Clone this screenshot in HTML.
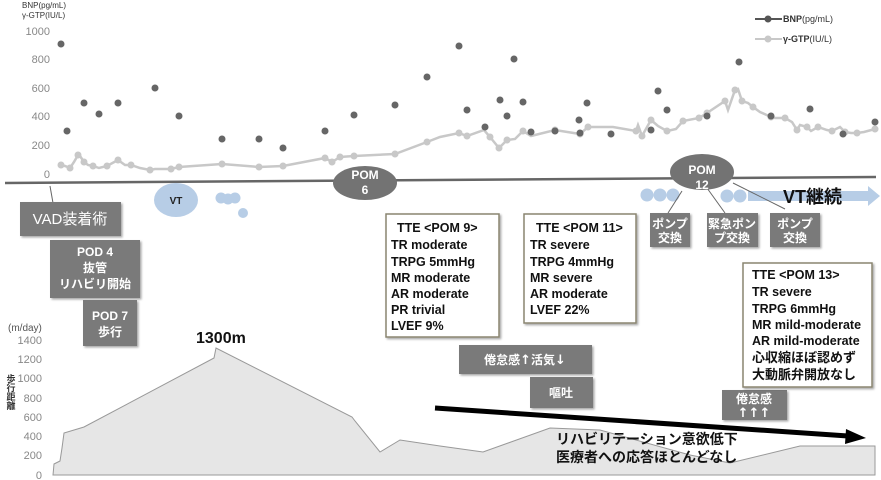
<!DOCTYPE html>
<html><head><meta charset="utf-8"><style>
body{margin:0;background:#fff}
svg{display:block}
text{font-family:"Liberation Sans","Noto Sans CJK JP",sans-serif}
.ax{font-size:11px;fill:#888;text-anchor:end}
.bx{fill:#7a7a7a}
.wt{fill:#fff;font-weight:bold;text-anchor:middle;font-size:12px}
.tt{font-size:12.5px;font-weight:bold;fill:#111}
.ar{font-family:"DejaVu Sans",sans-serif;font-size:13px}
</style></head><body>
<svg width="881" height="480" viewBox="0 0 881 480">
<defs><filter id="sh"><feDropShadow dx="1.5" dy="1.5" stdDeviation="1" flood-opacity="0.35"/></filter></defs>
<text x="22" y="8" font-size="8" fill="#333">BNP(pg/mL)</text>
<text x="22" y="18" font-size="8" fill="#333">γ-GTP(IU/L)</text>
<text class="ax" x="50" y="35">1000</text>
<text class="ax" x="50" y="63">800</text>
<text class="ax" x="50" y="92">600</text>
<text class="ax" x="50" y="120">400</text>
<text class="ax" x="50" y="149">200</text>
<text class="ax" x="50" y="178">0</text>
<line x1="755" y1="19" x2="782" y2="19" stroke="#555" stroke-width="2"/><circle cx="768" cy="19" r="3.5" fill="#555"/>
<text x="783" y="22" font-size="9" fill="#333"><tspan font-weight="bold">BNP</tspan>(pg/mL)</text>
<line x1="755" y1="39" x2="782" y2="39" stroke="#c8c8c8" stroke-width="2"/><circle cx="768" cy="39" r="3.5" fill="#c8c8c8"/>
<text x="783" y="42" font-size="9" fill="#333"><tspan font-weight="bold">γ-GTP</tspan>(IU/L)</text>
<polyline fill="none" stroke="#c8c8c8" stroke-width="2.5" points="61,165 65,166 70,168 74,162 78,155 80,156 84,162 88,165 93,166 99,168 107,166 118,160 125,165 131,165 140,168 150,170 155,169 171,169 179,167 222,164 259,167 283,166 325,158 332,162 340,157 354,156 395,154 427,142 440,137 459,133 467,136 484,130 490,137 499,148 507,140 515,139 523,131 531,136 555,130 580,134 588,127 613,127 636,131 638,125 642,136 651,120 658,126 667,131 676,129 683,121 699,118 707,113 725,101 728,110 735,90 738,89 742,101 748,103 753,107 760,112 771,117 775,118 785,118 792,122 797,130 800,125 807,127 811,131 818,127 827,130 832,131 840,127 845,132 851,133 857,133 864,132 875,129"/>
<g fill="#c8c8c8">
<circle cx="61" cy="165" r="3.5"/><circle cx="70" cy="168" r="3.5"/><circle cx="78" cy="155" r="3.5"/><circle cx="84" cy="162" r="3.5"/><circle cx="93" cy="166" r="3.5"/><circle cx="107" cy="166" r="3.5"/><circle cx="118" cy="160" r="3.5"/><circle cx="131" cy="165" r="3.5"/><circle cx="150" cy="170" r="3.5"/><circle cx="171" cy="169" r="3.5"/><circle cx="179" cy="167" r="3.5"/><circle cx="222" cy="164" r="3.5"/><circle cx="259" cy="167" r="3.5"/><circle cx="283" cy="166" r="3.5"/><circle cx="325" cy="158" r="3.5"/><circle cx="332" cy="162" r="3.5"/><circle cx="340" cy="157" r="3.5"/><circle cx="354" cy="156" r="3.5"/><circle cx="395" cy="154" r="3.5"/><circle cx="427" cy="142" r="3.5"/><circle cx="459" cy="133" r="3.5"/><circle cx="467" cy="136" r="3.5"/><circle cx="490" cy="137" r="3.5"/><circle cx="499" cy="148" r="3.5"/><circle cx="507" cy="140" r="3.5"/><circle cx="523" cy="131" r="3.5"/><circle cx="555" cy="130" r="3.5"/><circle cx="580" cy="134" r="3.5"/><circle cx="588" cy="127" r="3.5"/><circle cx="636" cy="131" r="3.5"/><circle cx="642" cy="136" r="3.5"/><circle cx="651" cy="120" r="3.5"/><circle cx="667" cy="131" r="3.5"/><circle cx="683" cy="121" r="3.5"/><circle cx="699" cy="118" r="3.5"/><circle cx="707" cy="113" r="3.5"/><circle cx="725" cy="101" r="3.5"/><circle cx="735" cy="90" r="3.5"/><circle cx="742" cy="101" r="3.5"/><circle cx="753" cy="107" r="3.5"/><circle cx="771" cy="117" r="3.5"/><circle cx="785" cy="118" r="3.5"/><circle cx="797" cy="130" r="3.5"/><circle cx="807" cy="127" r="3.5"/><circle cx="818" cy="127" r="3.5"/><circle cx="832" cy="131" r="3.5"/><circle cx="845" cy="132" r="3.5"/><circle cx="857" cy="133" r="3.5"/><circle cx="875" cy="129" r="3.5"/>
</g>
<g fill="#666">
<circle cx="61" cy="44" r="3.5"/><circle cx="67" cy="131" r="3.5"/><circle cx="84" cy="103" r="3.5"/><circle cx="99" cy="114" r="3.5"/><circle cx="118" cy="103" r="3.5"/><circle cx="155" cy="88" r="3.5"/><circle cx="179" cy="116" r="3.5"/><circle cx="222" cy="139" r="3.5"/><circle cx="259" cy="139" r="3.5"/><circle cx="283" cy="148" r="3.5"/><circle cx="325" cy="131" r="3.5"/><circle cx="354" cy="115" r="3.5"/><circle cx="395" cy="105" r="3.5"/><circle cx="427" cy="77" r="3.5"/><circle cx="459" cy="46" r="3.5"/><circle cx="467" cy="110" r="3.5"/><circle cx="514" cy="59" r="3.5"/><circle cx="500" cy="100" r="3.5"/><circle cx="507" cy="116" r="3.5"/><circle cx="523" cy="102" r="3.5"/><circle cx="485" cy="127" r="3.5"/><circle cx="531" cy="132" r="3.5"/><circle cx="555" cy="131" r="3.5"/><circle cx="580" cy="133" r="3.5"/><circle cx="579" cy="120" r="3.5"/><circle cx="587" cy="103" r="3.5"/><circle cx="611" cy="134" r="3.5"/><circle cx="658" cy="91" r="3.5"/><circle cx="651" cy="130" r="3.5"/><circle cx="667" cy="110" r="3.5"/><circle cx="707" cy="116" r="3.5"/><circle cx="739" cy="62" r="3.5"/><circle cx="771" cy="116" r="3.5"/><circle cx="810" cy="109" r="3.5"/><circle cx="843" cy="134" r="3.5"/><circle cx="875" cy="122" r="3.5"/>
</g>
<line x1="5" y1="183" x2="876" y2="177" stroke="#666" stroke-width="2.5"/>
<line x1="50" y1="186" x2="53" y2="203" stroke="#666" stroke-width="1"/>
<ellipse cx="176" cy="200" rx="22" ry="17" fill="#b7cde6"/>
<text x="176" y="204" font-size="10" font-weight="bold" text-anchor="middle" fill="#222">VT</text>
<g fill="#b7cde6"><circle cx="221" cy="198" r="5.5"/><circle cx="235" cy="198" r="5.5"/><circle cx="228" cy="199" r="5.5"/><circle cx="243" cy="213" r="5"/>
<circle cx="647" cy="195" r="6.5"/><circle cx="660" cy="195" r="6.5"/><circle cx="673" cy="195" r="6.5"/><circle cx="727" cy="196" r="6.5"/><circle cx="740" cy="196" r="6.5"/>
<polygon points="748,191 868,191 868,186 880,196 868,206 868,201 748,201"/></g>
<text x="783" y="203" font-size="18" font-weight="bold" fill="#111">VT継続</text>
<ellipse cx="365" cy="183" rx="32" ry="17" fill="#737373"/>
<text class="wt" x="365" y="179" font-size="11">POM</text><text class="wt" x="365" y="194" font-size="11">6</text>
<line x1="682" y1="191" x2="668" y2="213" stroke="#666"/>
<line x1="707" y1="188" x2="725" y2="213" stroke="#666"/>
<line x1="733" y1="183" x2="785" y2="209" stroke="#666"/>
<ellipse cx="702" cy="172" rx="32" ry="18" fill="#737373"/>
<text class="wt" x="702" y="174" font-size="11">POM</text><text class="wt" x="702" y="189" font-size="11">12</text>
<g filter="url(#sh)" class="bx">
<rect x="20" y="202" width="101" height="34"/>
<rect x="50" y="240" width="90" height="58"/>
<rect x="83" y="300" width="54" height="46"/>
<rect x="650" y="213" width="40" height="34"/>
<rect x="707" y="213" width="51" height="34"/>
<rect x="770" y="213" width="50" height="34"/>
<rect x="459" y="345" width="133" height="29"/>
<rect x="530" y="377" width="63" height="31"/>
<rect x="722" y="390" width="65" height="30"/>
</g>
<text x="70" y="224" font-size="15" fill="#fff" text-anchor="middle">VAD装着術</text>
<text class="wt" x="95" y="256">POD 4</text><text class="wt" x="95" y="272">抜管</text><text class="wt" x="95" y="288">リハビリ開始</text>
<text class="wt" x="110" y="320">POD 7</text><text class="wt" x="110" y="336">歩行</text>
<text class="wt" x="670" y="228" font-size="11">ポンプ</text><text class="wt" x="670" y="242" font-size="11">交換</text>
<text class="wt" x="732" y="228" font-size="10">緊急ポン</text><text class="wt" x="732" y="242" font-size="11">プ交換</text>
<text class="wt" x="795" y="228" font-size="11">ポンプ</text><text class="wt" x="795" y="242" font-size="11">交換</text>
<text class="wt" x="525" y="364" font-size="13">倦怠感<tspan class="ar">↑</tspan>活気<tspan class="ar">↓</tspan></text>
<text class="wt" x="561" y="397" font-size="13">嘔吐</text>
<text class="wt" x="754" y="403" font-size="12">倦怠感</text><text class="wt ar" x="754" y="417" font-size="13">↑↑↑</text>
<g fill="#fff" stroke="#8a8570" stroke-width="1.5" filter="url(#sh)">
<rect x="386" y="214" width="113" height="123"/>
<rect x="524" y="214" width="112" height="109"/>
<rect x="743" y="263" width="129" height="124"/>
</g>
<g class="tt">
<text x="397" y="232">TTE &lt;POM 9&gt;</text><text x="391" y="249">TR moderate</text><text x="391" y="266">TRPG 5mmHg</text><text x="391" y="282">MR moderate</text><text x="391" y="298">AR moderate</text><text x="391" y="314">PR trivial</text><text x="391" y="330">LVEF 9%</text>
<text x="536" y="232">TTE &lt;POM 11&gt;</text><text x="530" y="249">TR severe</text><text x="530" y="266">TRPG 4mmHg</text><text x="530" y="282">MR severe</text><text x="530" y="298">AR moderate</text><text x="530" y="314">LVEF 22%</text>
<text x="752" y="279">TTE  &lt;POM 13&gt;</text><text x="752" y="296">TR severe</text><text x="752" y="313">TRPG 6mmHg</text><text x="752" y="329">MR mild-moderate</text><text x="752" y="345">AR mild-moderate</text><text x="752" y="362" font-size="13">心収縮ほぼ認めず</text><text x="752" y="379" font-size="13">大動脈弁開放なし</text>
</g>
<text x="8" y="331" font-size="10" fill="#555">(m/day)</text>
<text class="ax" x="42" y="344">1400</text>
<text class="ax" x="42" y="363">1200</text>
<text class="ax" x="42" y="382">1000</text>
<text class="ax" x="42" y="402">800</text>
<text class="ax" x="42" y="421">600</text>
<text class="ax" x="42" y="440">400</text>
<text class="ax" x="42" y="459">200</text>
<text class="ax" x="42" y="479">0</text>
<g font-size="9" font-weight="bold" fill="#333" text-anchor="middle"><text x="11" y="382">歩</text><text x="11" y="391">行</text><text x="11" y="400">距</text><text x="11" y="409">離</text></g>
<polygon fill="#e6e6e6" stroke="#999" stroke-width="1" points="53,475 54,464 56,463 60,461 62,448 64,433 84,427 214,358 216,348 352,417 355,421 380,452 400,440 440,446 483,452 550,428 600,430 690,455 730,463 800,446 875,446 875,475"/>
<text x="196" y="343" font-size="16" font-weight="bold" fill="#111">1300m</text>
<line x1="435" y1="408" x2="848" y2="436" stroke="#000" stroke-width="5"/>
<polygon points="846,429 866,438 845,444" fill="#000"/>
<text x="556" y="444" font-size="14" font-weight="bold" fill="#111">リハビリテーション意欲低下</text>
<text x="556" y="462" font-size="14" font-weight="bold" fill="#111">医療者への応答ほとんどなし</text>
</svg>
</body></html>
